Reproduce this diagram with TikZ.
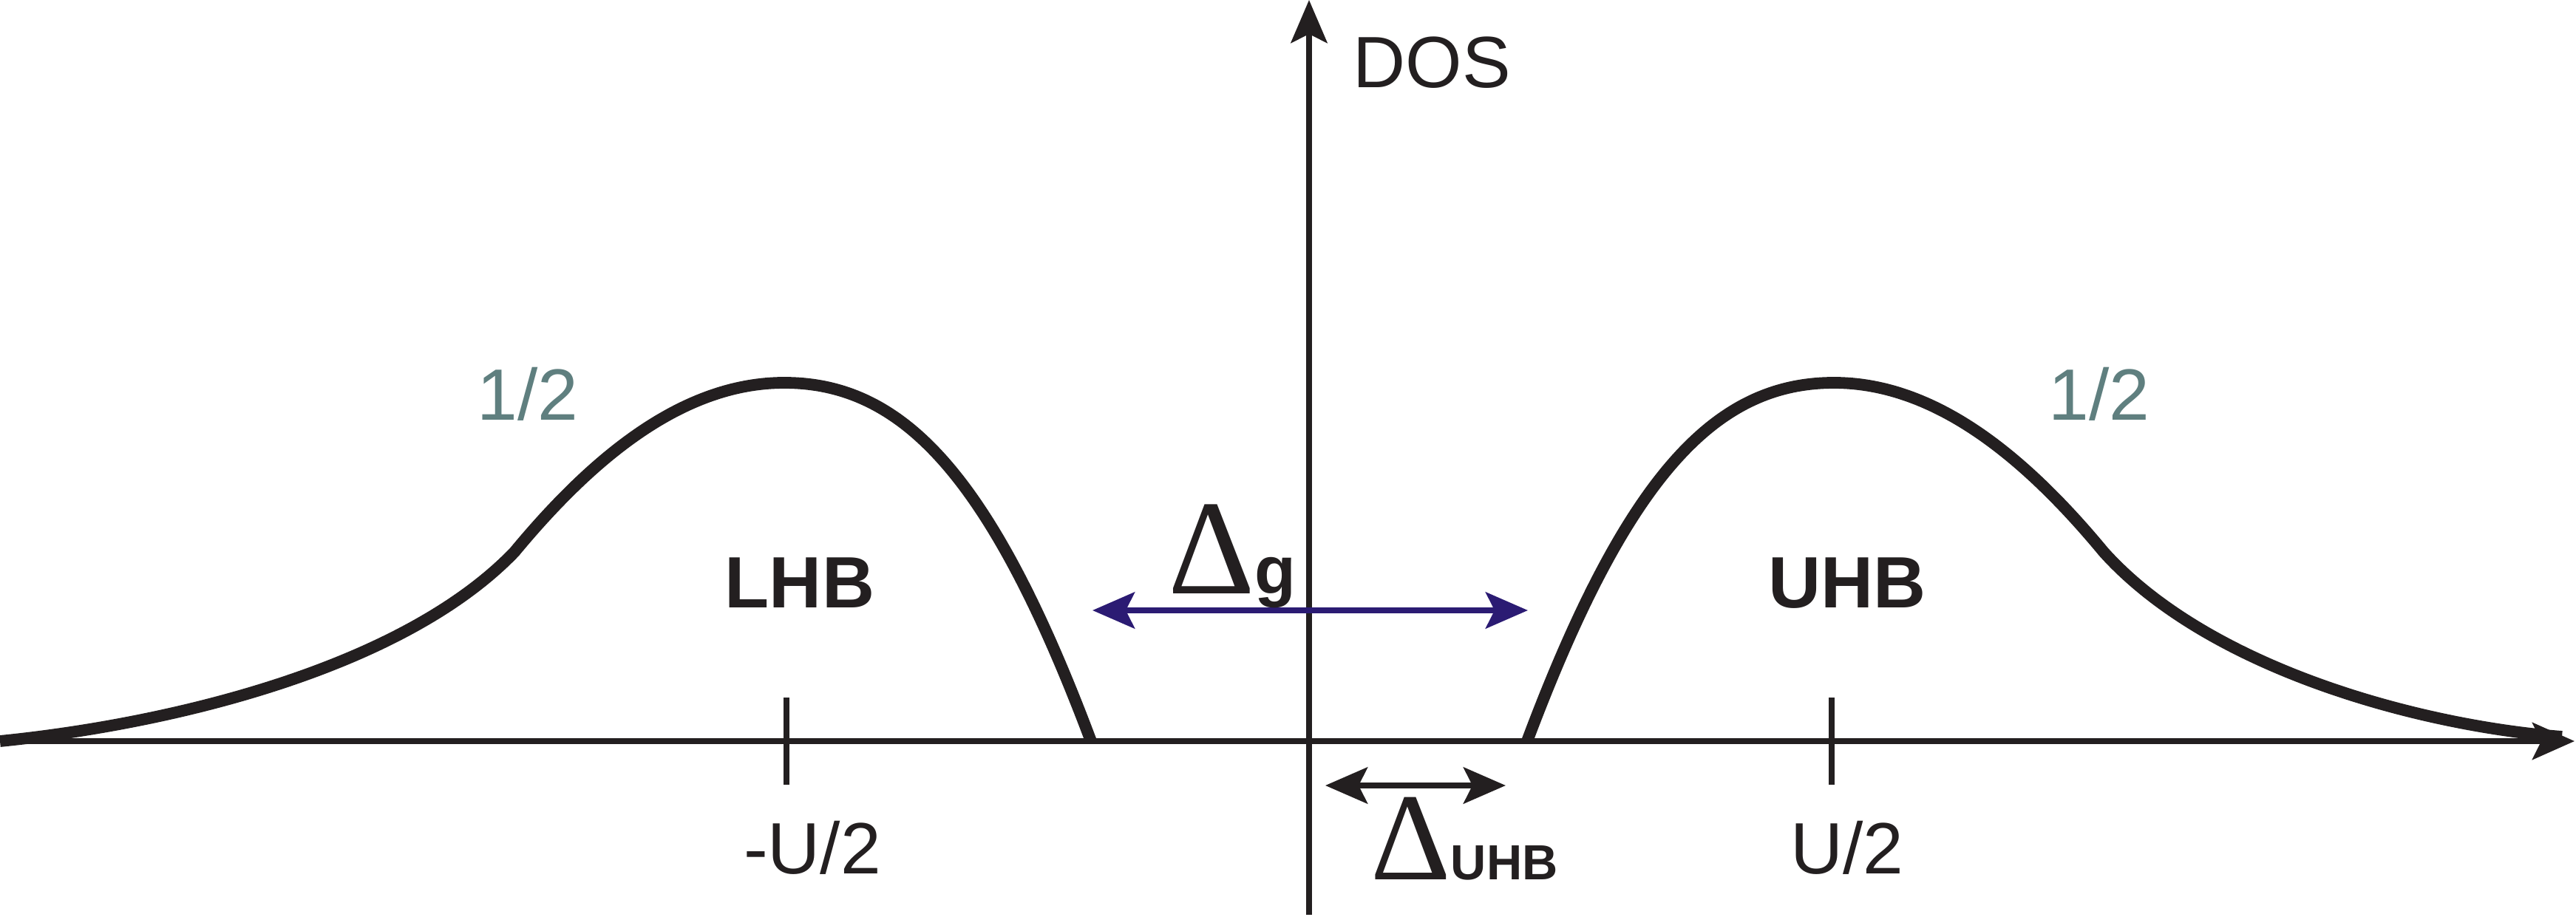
\documentclass[tikz,border=0pt]{standalone}
\usepackage{fontspec}
\setmainfont{Liberation Sans}
\newfontfamily\deltafont{Liberation Serif}
\usetikzlibrary{arrows.meta}
\definecolor{inkblack}{RGB}{35,31,32}
\definecolor{gapblue}{RGB}{43,27,115}
\definecolor{halfgray}{RGB}{95,127,127}
\newcommand{\bandDelta}[1]{{\deltafont\fontsize{#1}{#1}\selectfont Δ}}

\begin{document}
\begin{tikzpicture}[
    axis/.style={draw=inkblack, line width=2.3pt},
    band/.style={draw=inkblack, line width=4.5pt},
    gaparrow/.style={line width=2.3pt, {Stealth[length=0.57cm,width=0.49cm,inset=0.12cm]}-{Stealth[length=0.57cm,width=0.49cm,inset=0.12cm]}},
    lbl/.style={inner sep=0pt, anchor=base, text=inkblack, font=\fontsize{28}{28}\selectfont},
  ]
  \useasboundingbox (-17.71,-2.37) rectangle (17.14,10.03);

  % axes
  \coordinate (xstart) at (-17.6,0);
  \coordinate (xend) at (17.12,0);
  \coordinate (ystart) at (0,-2.35);
  \coordinate (yend) at (0,10.03);
  \draw[axis, -{Stealth[length=0.57cm,width=0.5cm,inset=0.12cm]}] (xstart) -- (xend);
  \draw[axis, -{Stealth[length=0.58cm,width=0.49cm,inset=0.12cm]}] (ystart) -- (yend);
  \node[lbl, anchor=base west] (dos) at (0.59,8.85) {DOS};

  % ticks
  \draw[axis] (-7.07,0.59) -- (-7.07,-0.59);
  \draw[axis] (7.07,0.59) -- (7.07,-0.59);
  \node[lbl] (mUhalf) at (-6.72,-1.79) {-U/2};
  \node[lbl] (Uhalf) at (7.28,-1.79) {U/2};

  % lower and upper Hubbard bands
  \draw[band] (-17.71,0) .. controls (-15.5,0.22) and (-12.3,0.95) .. (-10.75,2.56)
    .. controls (-9.6,3.95) and (-8.4,4.85) .. (-7.10,4.85)
    .. controls (-5.5,4.85) and (-4.3,3.6) .. (-2.95,0);
  \draw[band] (2.95,0) .. controls (4.3,3.6) and (5.5,4.85) .. (7.10,4.85)
    .. controls (8.4,4.85) and (9.6,3.95) .. (10.75,2.56)
    .. controls (12.2,0.95) and (15.1,0.2) .. (16.95,0.06);

  \node[lbl, font=\fontsize{28}{28}\selectfont\bfseries] (lhb) at (-6.89,1.81) {LHB};
  \node[lbl, font=\fontsize{28}{28}\selectfont\bfseries] (uhb) at (7.28,1.81) {UHB};
  \node[lbl, text=halfgray] (halfL) at (-10.57,4.35) {1/2};
  \node[lbl, text=halfgray] (halfR) at (10.69,4.35) {1/2};

  % gaps
  \coordinate (gapL) at (-2.93,1.77);
  \coordinate (gapR) at (2.96,1.77);
  \draw[gaparrow, draw=gapblue, fill=gapblue] (gapL) -- (gapR);
  \node[lbl] (gap) at (-1.04,2.00) {\bandDelta{52}{\fontsize{26}{26}\selectfont\bfseries g}};

  \coordinate (uhbL) at (0.22,-0.60);
  \coordinate (uhbR) at (2.66,-0.60);
  \draw[gaparrow, draw=inkblack, fill=inkblack] (uhbL) -- (uhbR);
  \node[lbl] (gapuhb) at (2.10,-1.87) {\bandDelta{48}{\fontsize{19}{19}\selectfont\bfseries UHB}};
\end{tikzpicture}
\end{document}
